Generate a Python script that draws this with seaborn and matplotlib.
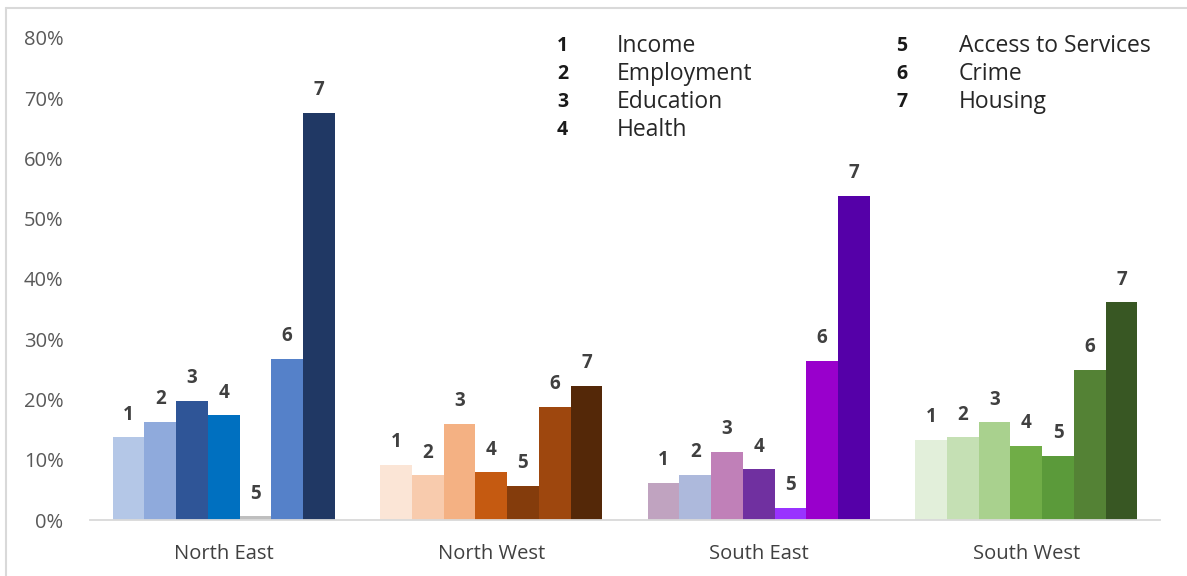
import matplotlib
matplotlib.use("Agg")
import matplotlib.pyplot as plt
from matplotlib.lines import Line2D
import seaborn as sns
import pandas as pd

# Share of areas in the most deprived decile, by domain and region (%)
regions = ["North East", "North West", "South East", "South West"]
domain_ids = ["1", "2", "3", "4", "5", "6", "7"]
domain_names = ["Income", "Employment", "Education", "Health",
                "Access to Services", "Crime", "Housing"]

north_east = [13.7, 16.3, 19.8, 17.4, 0.6, 26.8, 67.6]
north_west = [9.2, 7.4, 16.0, 7.9, 5.7, 18.8, 22.3]
south_east = [6.2, 7.5, 11.3, 8.4, 2.0, 26.4, 53.8]
south_west = [13.3, 13.7, 16.2, 12.3, 10.7, 24.9, 36.1]

# One colour ramp per region, one shade per domain
colors_ne = ["#B4C7E7", "#8FAADC", "#2F5597", "#0070C0", "#BFBFBF", "#5581C9", "#203864"]
colors_nw = ["#FBE5D6", "#F8CBAD", "#F4B183", "#C55A11", "#843C0C", "#9E470E", "#542808"]
colors_se = ["#C0A3C0", "#ADB9DC", "#C080B8", "#7030A0", "#9933FF", "#9900CC", "#5500A8"]
colors_sw = ["#E2EFDA", "#C5E0B4", "#A9D18E", "#70AD47", "#5B9A3A", "#548235", "#385723"]

values = [north_east, north_west, south_east, south_west]
colors = [colors_ne, colors_nw, colors_se, colors_sw]

df = pd.DataFrame(
    [(r, d, v[i]) for r, v in zip(regions, values) for i, d in enumerate(domain_ids)],
    columns=["region", "domain", "value"],
)

sns.set_theme(style="white")
plt.rcParams["font.family"] = ["Open Sans", "DejaVu Sans"]

fig = plt.figure(figsize=(11.87, 5.76), dpi=100)
ax = fig.add_axes([0.0758, 0.0972, 0.9015, 0.837])

sns.barplot(data=df, x="region", y="value", hue="domain", order=regions,
            hue_order=domain_ids, width=0.83, gap=0, saturation=1,
            legend=False, ax=ax, errorbar=None)

for k, cont in enumerate(ax.containers):
    for j, bar in enumerate(cont):
        bar.set_facecolor(colors[j][k])
        bar.set_edgecolor("none")
    ax.bar_label(cont, labels=[domain_ids[k]] * len(regions), padding=9,
                 fontsize=13.5, fontweight="bold", color="#404040")

ax.set_ylim(0, 80)
ax.set_yticks(range(0, 81, 10))
ax.set_yticklabels([f"{t}%" for t in range(0, 81, 10)], fontsize=14.5, color="#595959")
ax.tick_params(axis="y", length=0, pad=19)
ax.tick_params(axis="x", length=0, pad=17, labelsize=14.5, labelcolor="#404040")
ax.set_xlabel("")
ax.set_ylabel("")
ax.set_xlim(-0.5, 3.5)

for side in ["top", "right", "left"]:
    ax.spines[side].set_visible(False)
ax.spines["bottom"].set_color("#D9D9D9")
ax.spines["bottom"].set_linewidth(1.3)

# Domain key in two columns
key_cols = [(0.474, 0.520, range(0, 4)), (0.760, 0.808, range(4, 7))]
row_y = [0.921, 0.872, 0.823, 0.775]
for num_x, name_x, idx in key_cols:
    for r, i in enumerate(idx):
        fig.text(num_x, row_y[r], domain_ids[i], fontsize=14, fontweight="bold",
                 color="#1a1a1a", va="center", ha="center")
        fig.text(name_x, row_y[r], domain_names[i], fontsize=16.5,
                 color="#262626", va="center", ha="left")

# Chart frame (left and top edges)
fig.add_artist(Line2D([0.005, 0.005], [0.0, 0.986], transform=fig.transFigure,
                      color="#D9D9D9", linewidth=1.5))
fig.add_artist(Line2D([0.005, 1.0], [0.986, 0.986], transform=fig.transFigure,
                      color="#D9D9D9", linewidth=1.5))

fig.savefig("out.png", dpi=100)
